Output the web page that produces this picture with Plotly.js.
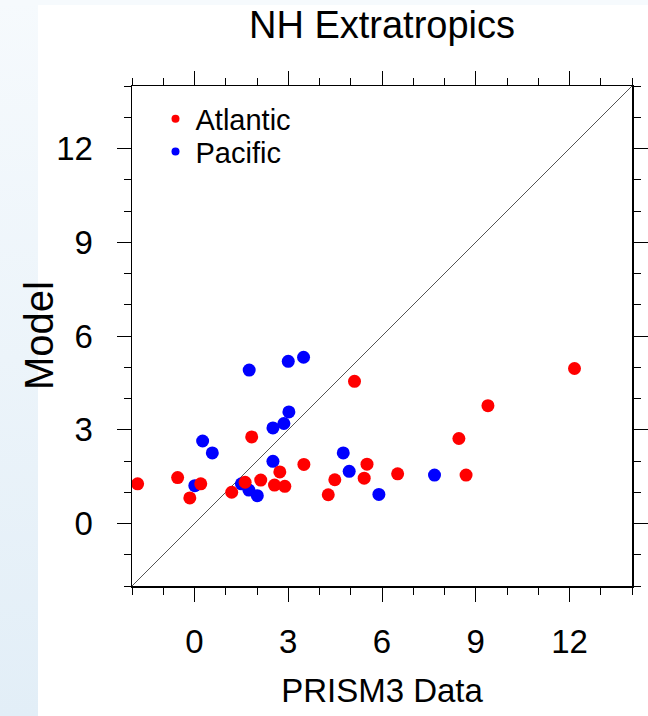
<!DOCTYPE html>
<html>
<head>
<meta charset="utf-8">
<script src="https://cdn.plot.ly/plotly-3.0.1.min.js"></script>
<style>
html, body { margin:0; padding:0; }
body {
  width:648px; height:716px; overflow:hidden;
  background:
    linear-gradient(#f6fafd,#f6fafd) 0 0/100% 5px no-repeat,
    linear-gradient(to bottom,#f6fafd,#e2eef7) 0 0/38px 100% no-repeat,
    #ffffff;
}
#chart { width:648px; height:716px; }
</style>
</head>
<body>
<div id="chart"></div>
<script>
// Data
var atlanticX = [-1.82,-0.54,-0.15,0.20,1.19,1.62,1.83,2.12,2.56,2.73,2.89,3.50,4.28,4.49,5.12,5.43,5.52,6.50,8.46,8.69,9.39,12.16];
var atlanticY = [1.27,1.47,0.82,1.27,1.00,1.32,2.77,1.39,1.23,1.65,1.19,1.89,0.92,1.40,4.55,1.45,1.90,1.59,2.72,1.55,3.77,4.96];
var pacificX = [0.01,0.26,0.57,1.50,1.74,1.75,2.01,2.51,2.51,2.86,3.00,3.02,3.49,4.76,4.95,5.90,7.68];
var pacificY = [1.21,2.64,2.26,1.27,1.07,4.91,0.89,1.99,3.06,3.20,5.19,3.57,5.32,2.26,1.67,0.93,1.55];
var axisRange = [-2, 14];
var tickValues = [0, 3, 6, 9, 12];
var tickLabels = ['0', '3', '6', '9', '12'];
var seriesNames = ['Atlantic', 'Pacific'];
var yTitle = 'Model';

var FONT = "'Liberation Sans', Arial, Helvetica, sans-serif";

var traces = [
  { type:'scatter', mode:'markers', name:seriesNames[1], x:pacificX, y:pacificY,
    marker:{color:'#0000ff', size:13}, showlegend:false, legendgroup:'pac', hoverinfo:'x+y' },
  { type:'scatter', mode:'markers', name:seriesNames[0], x:atlanticX, y:atlanticY,
    marker:{color:'#ff0000', size:13}, showlegend:false, legendgroup:'atl', hoverinfo:'x+y' },
  // legend entries (small dots like the reference legend)
  { type:'scatter', mode:'markers', name:seriesNames[0], x:[null], y:[null],
    marker:{color:'#ff0000', size:8}, legend:'legend', legendgroup:'atl' },
  { type:'scatter', mode:'markers', name:seriesNames[1], x:[null], y:[null],
    marker:{color:'#0000ff', size:8}, legend:'legend2', legendgroup:'pac' }
];

function axis(extra) {
  var a = {
    range: axisRange, autorange:false,
    tickmode:'array', tickvals:tickValues, ticktext:tickLabels,
    ticks:'outside', ticklen:14, tickwidth:1, tickcolor:'#000',
    minor:{ dtick:1, tick0:0, ticks:'outside', ticklen:7, tickwidth:1, tickcolor:'#000', showgrid:false },
    showline:true, linecolor:'#000', linewidth:1.5, mirror:'ticks',
    showgrid:false, zeroline:false,
    tickfont:{ family:FONT, size:33, color:'#000' },
    automargin:false
  };
  for (var k in extra) a[k] = extra[k];
  return a;
}

var legendBase = {
  bgcolor:'rgba(0,0,0,0)', borderwidth:0,
  font:{ family:FONT, size:29, color:'#000' },
  xref:'paper', yref:'paper', xanchor:'left', yanchor:'middle',
  itemclick:false, itemdoubleclick:false
};
var legend1 = Object.assign({}, legendBase, { x:0.047, y:0.934 });
var legend2 = Object.assign({}, legendBase, { x:0.047, y:0.8686 });

var layout = {
  width:648, height:716,
  margin:{ l:132, r:16, t:86, b:130, pad:0 },
  paper_bgcolor:'rgba(0,0,0,0)',
  plot_bgcolor:'#ffffff',
  font:{ family:FONT, color:'#000' },
  title:{ text:'NH Extratropics', font:{ family:FONT, size:38, color:'#000' },
          xref:'paper', x:0.5, xanchor:'center', yref:'container', y:1 - 24.3/716, yanchor:'middle' },
  xaxis: axis({ title:{ text:'PRISM3 Data', font:{ family:FONT, size:33, color:'#000' }, standoff:20 },
                ticklabelstandoff:12 }),
  yaxis: axis({ ticklabelstandoff:17 }),
  annotations:[{ text:yTitle, xref:'paper', yref:'paper', x:-0.186, y:0.5,
                 xanchor:'center', yanchor:'middle', textangle:-90, showarrow:false,
                 font:{ family:FONT, size:40, color:'#000' } }],
  shapes:[{ type:'line', xref:'x', yref:'y',
            x0:axisRange[0], y0:axisRange[0], x1:axisRange[1], y1:axisRange[1],
            line:{ color:'#555', width:1 }, layer:'below' }],
  legend: legend1,
  legend2: legend2
};

Plotly.newPlot('chart', traces, layout, { displayModeBar:false, staticPlot:true });
</script>
</body>
</html>
